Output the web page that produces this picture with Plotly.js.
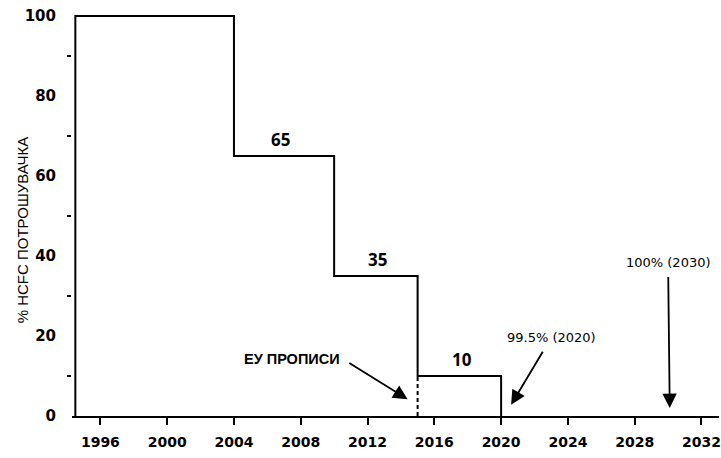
<!DOCTYPE html>
<html>
<head>
<meta charset="utf-8">
<script src="https://cdn.plot.ly/plotly-3.0.1.min.js"></script>
<style>html,body{margin:0;padding:0;background:#fff;}#chart{width:721px;height:458px;}</style>
</head>
<body>
<div id="chart"></div>
<script>
// Phase-out step: year where each level begins, and allowed % of HCFC consumption
const stepYears = [1994.5, 1994.5, 2004, 2010, 2015, 2020];
const stepLevels = [0, 100, 65, 35, 10, 0];
// EU rules dashed segment (2015, from 0 up to 10)
const euYears = [2015, 2015];
const euLevels = [0, 10];
// step labels
const levelLabels = ["65", "35", "10"];
const levelLabelX = [2006.8, 2012.6, 2017.65];
const levelLabelY = [65, 35, 10];
// axis ticks
const xTickVals = [1996, 2000, 2004, 2008, 2012, 2016, 2020, 2024, 2028, 2032];
const yTickVals = [0, 20, 40, 60, 80, 100];
const yMinorTickVals = [10, 30, 50, 70, 90];
const yTitle = '% HCFC ПОТРОШУВАЧКА';
// arrow notes
const noteTexts = ["ЕУ ПРОПИСИ", "99.5% (2020)", "100% (2030)"];
const noteHeadX = [2014.4, 2020.6, 2030.1];
const noteHeadY = [4.2, 2.8, 2.0];
const noteTextX = [2010.5, 2023.0, 2030.0];
const noteTextY = [14.3, 19.6, 38.5];
const noteAnchor = ["right", "center", "center"];
const noteFontSize = [14.5, 13, 13];

const traces = [
  {x: stepYears, y: stepLevels, type: 'scatter', mode: 'lines',
   line: {shape: 'hv', color: '#000', width: 2}, hoverinfo: 'skip', cliponaxis: false},
  {x: euYears, y: euLevels, type: 'scatter', mode: 'lines',
   line: {color: '#000', width: 2, dash: '4px,3px'}, hoverinfo: 'skip', cliponaxis: false}
];

const annotations = [];
for (let i = 0; i < levelLabels.length; i++) {
  annotations.push({x: levelLabelX[i], y: levelLabelY[i], text: levelLabels[i],
    showarrow: false, yanchor: 'bottom', yshift: 3,
    font: {family: 'Open Sans, sans-serif', size: 17, color: '#000', weight: 'bold'}});
}
for (let i = 0; i < noteTexts.length; i++) {
  annotations.push({x: noteHeadX[i], y: noteHeadY[i], text: noteTexts[i],
    showarrow: true, axref: 'x', ayref: 'y', ax: noteTextX[i], ay: noteTextY[i],
    xanchor: noteAnchor[i],
    arrowhead: 2, arrowsize: 1.6, arrowwidth: 1.8, arrowcolor: '#000', startstandoff: i === 0 ? 8 : 6,
    font: {family: i === 0 ? 'Liberation Sans, Arial, sans-serif' : 'DejaVu Sans, sans-serif',
           size: noteFontSize[i], color: '#000', weight: i === 0 ? 'bold' : 'normal'}});
}
// y-axis title placed as a rotated annotation (slightly below centre, as in the original)
annotations.push({xref: 'paper', yref: 'paper', x: -0.077, y: 0.46, text: yTitle,
  textangle: -90, showarrow: false, xanchor: 'center', yanchor: 'middle',
  font: {family: 'Liberation Sans, Arial, sans-serif', size: 15, color: '#000'}});

const layout = {
  width: 721, height: 458,
  margin: {l: 72, r: 2, t: 12, b: 42},
  paper_bgcolor: '#fff', plot_bgcolor: '#fff',
  showlegend: false,
  xaxis: {range: [1994.3, 2033.05], tickvals: xTickVals, ticktext: xTickVals.map(String),
    showgrid: false, zeroline: false, showline: true, linecolor: '#000', linewidth: 2,
    ticks: 'outside', ticklen: 7, tickwidth: 2, tickcolor: '#000', ticklabelstandoff: 5,
    tickfont: {family: 'DejaVu Sans, sans-serif', size: 14, color: '#000', weight: 'bold'}},
  yaxis: {range: [0, 101], tickvals: yTickVals, ticktext: yTickVals.map(String),
    showgrid: false, zeroline: false, showline: false,
    ticks: 'outside', ticklen: 0, tickcolor: '#000', ticklabelstandoff: 12,
    minor: {tickvals: yMinorTickVals, ticks: 'outside', ticklen: 4, tickwidth: 2, tickcolor: '#000', showgrid: false},
    tickfont: {family: 'DejaVu Sans, sans-serif', size: 15, color: '#000', weight: 'bold'}},
  annotations: annotations
};

Plotly.newPlot('chart', traces, layout, {displayModeBar: false, staticPlot: true});
</script>
</body>
</html>
